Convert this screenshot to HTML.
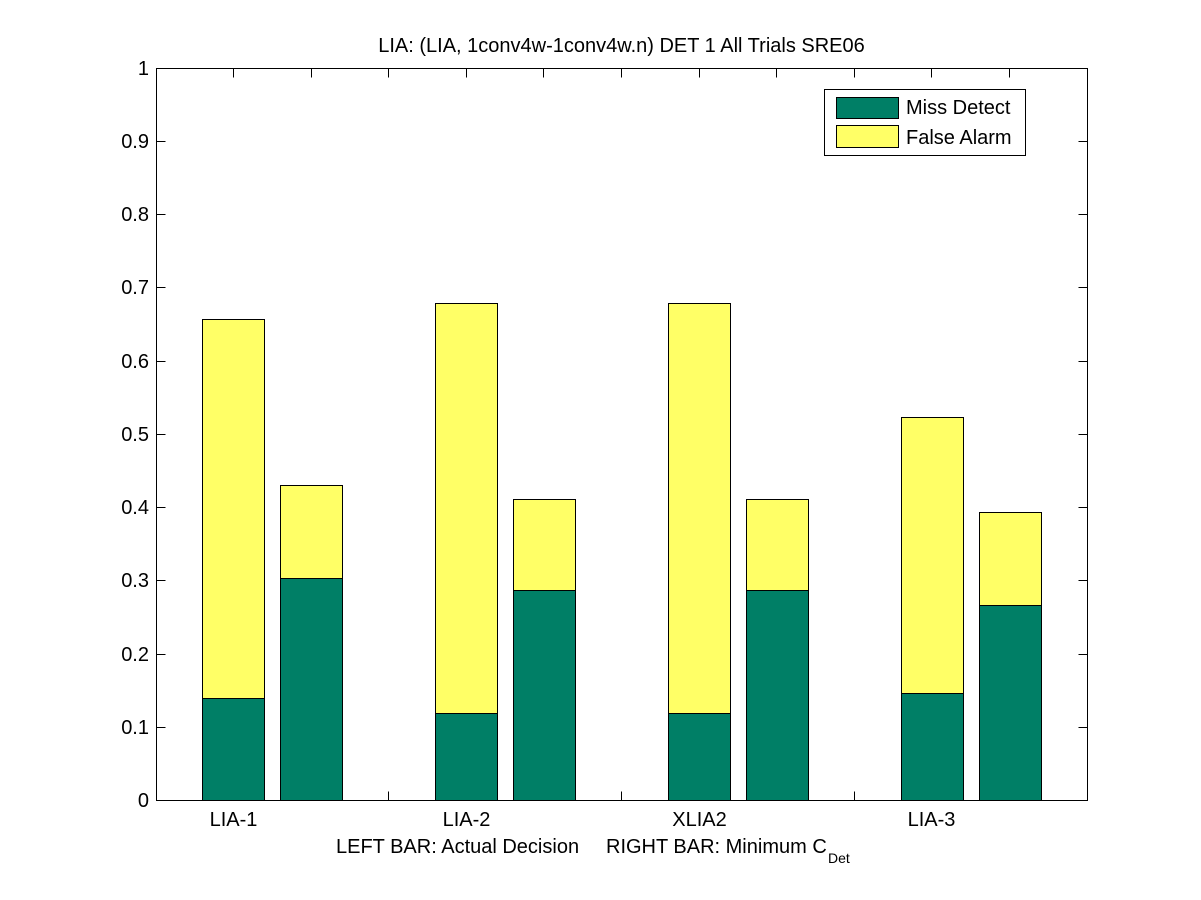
<!DOCTYPE html>
<html>
<head>
<meta charset="utf-8">
<style>
  html, body { margin:0; padding:0; background:#ffffff; }
  svg { display:block; }
  text { font-family: "Liberation Sans", Arial, sans-serif; fill:#000; }
</style>
</head>
<body>
<svg width="1201" height="900" viewBox="0 0 1201 900" xmlns="http://www.w3.org/2000/svg">
  <rect x="0" y="0" width="1201" height="900" fill="#ffffff"/>

  <!-- Title -->
  <text x="621.5" y="52" font-size="20" text-anchor="middle">LIA: (LIA, 1conv4w-1conv4w.n) DET 1 All Trials SRE06</text>

  <g shape-rendering="crispEdges" stroke="#000" stroke-width="1">
    <!-- Axes box -->
    <rect x="156.5" y="68.5" width="931" height="732" fill="none"/>

    <!-- Y ticks left & right -->
    <path fill="none" d="
      M156.5 800.5 h9 M1087.5 800.5 h-9
      M156.5 727.5 h9 M1087.5 727.5 h-9
      M156.5 654.5 h9 M1087.5 654.5 h-9
      M156.5 580.5 h9 M1087.5 580.5 h-9
      M156.5 507.5 h9 M1087.5 507.5 h-9
      M156.5 434.5 h9 M1087.5 434.5 h-9
      M156.5 361.5 h9 M1087.5 361.5 h-9
      M156.5 287.5 h9 M1087.5 287.5 h-9
      M156.5 214.5 h9 M1087.5 214.5 h-9
      M156.5 141.5 h9 M1087.5 141.5 h-9
      M156.5 68.5 h9 M1087.5 68.5 h-9"/>

    <!-- X ticks bottom & top -->
    <path fill="none" d="
      M233.5 800.5 v-9 M233.5 68.5 v9
      M311.5 800.5 v-9 M311.5 68.5 v9
      M388.5 800.5 v-9 M388.5 68.5 v9
      M466.5 800.5 v-9 M466.5 68.5 v9
      M543.5 800.5 v-9 M543.5 68.5 v9
      M621.5 800.5 v-9 M621.5 68.5 v9
      M699.5 800.5 v-9 M699.5 68.5 v9
      M776.5 800.5 v-9 M776.5 68.5 v9
      M854.5 800.5 v-9 M854.5 68.5 v9
      M931.5 800.5 v-9 M931.5 68.5 v9
      M1009.5 800.5 v-9 M1009.5 68.5 v9"/>

    <!-- Bars: false alarm (yellow, full height) then miss (green) -->
    <rect x="202.5" y="319.5" width="62" height="481" fill="#FFFF66"/>
    <rect x="202.5" y="698.5" width="62" height="102" fill="#007F66"/>
    <rect x="280.5" y="485.5" width="62" height="315" fill="#FFFF66"/>
    <rect x="280.5" y="578.5" width="62" height="222" fill="#007F66"/>
    <rect x="435.5" y="303.5" width="62" height="497" fill="#FFFF66"/>
    <rect x="435.5" y="713.5" width="62" height="87" fill="#007F66"/>
    <rect x="513.5" y="499.5" width="62" height="301" fill="#FFFF66"/>
    <rect x="513.5" y="590.5" width="62" height="210" fill="#007F66"/>
    <rect x="668.5" y="303.5" width="62" height="497" fill="#FFFF66"/>
    <rect x="668.5" y="713.5" width="62" height="87" fill="#007F66"/>
    <rect x="746.5" y="499.5" width="62" height="301" fill="#FFFF66"/>
    <rect x="746.5" y="590.5" width="62" height="210" fill="#007F66"/>
    <rect x="901.5" y="417.5" width="62" height="383" fill="#FFFF66"/>
    <rect x="901.5" y="693.5" width="62" height="107" fill="#007F66"/>
    <rect x="979.5" y="512.5" width="62" height="288" fill="#FFFF66"/>
    <rect x="979.5" y="605.5" width="62" height="195" fill="#007F66"/>

    <!-- Legend -->
    <rect x="824.5" y="89.5" width="201" height="66" fill="#ffffff"/>
    <rect x="836.5" y="97.5" width="62" height="21" fill="#007F66"/>
    <rect x="836.5" y="125.5" width="62" height="22" fill="#FFFF66"/>
  </g>

  <!-- Legend text -->
  <text x="906" y="114" font-size="20">Miss Detect</text>
  <text x="906" y="144" font-size="20">False Alarm</text>

  <!-- Y tick labels -->
  <g font-size="20" text-anchor="end">
    <text x="149" y="807">0</text>
    <text x="149" y="734">0.1</text>
    <text x="149" y="661">0.2</text>
    <text x="149" y="587">0.3</text>
    <text x="149" y="514">0.4</text>
    <text x="149" y="441">0.5</text>
    <text x="149" y="368">0.6</text>
    <text x="149" y="294">0.7</text>
    <text x="149" y="221">0.8</text>
    <text x="149" y="148">0.9</text>
    <text x="149" y="75">1</text>
  </g>

  <!-- X tick labels -->
  <g font-size="20" text-anchor="middle">
    <text x="233.5" y="826">LIA-1</text>
    <text x="466.5" y="826">LIA-2</text>
    <text x="699.5" y="826">XLIA2</text>
    <text x="931.5" y="826">LIA-3</text>
  </g>

  <!-- X label -->
  <text x="336" y="853" font-size="20">LEFT BAR: Actual Decision</text>
  <text x="606" y="853" font-size="20">RIGHT BAR: Minimum C</text>
  <text x="828" y="863" font-size="14">Det</text>
</svg>
</body>
</html>
